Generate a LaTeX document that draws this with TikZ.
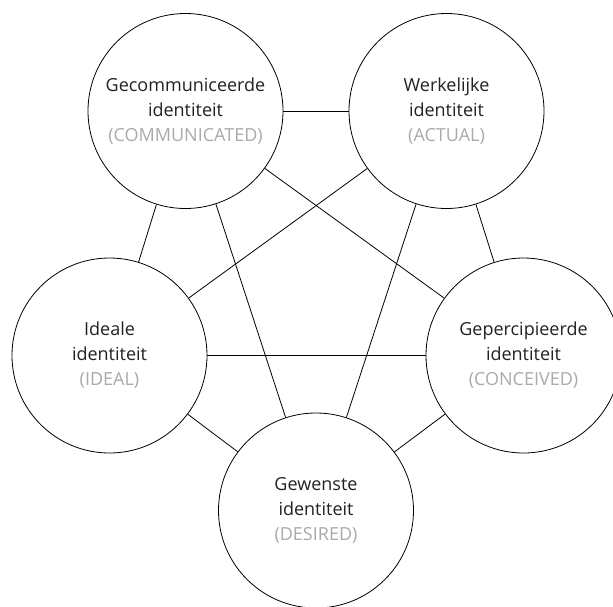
\documentclass[tikz,border=0pt]{standalone}
\usepackage{fontspec}
\setmainfont{Open Sans}
\definecolor{inktext}{HTML}{222222}
\definecolor{softgray}{HTML}{AAAAAA}
\begin{document}
\begin{tikzpicture}[x=1pt,y=-1pt,
  facet/.style={circle,draw=black,line width=0.8pt,fill=white,minimum size=195pt,
    inner sep=0pt,align=center,text=inktext,font=\fontsize{18}{25}\selectfont},
  link/.style={draw=black,line width=0.8pt}]
  \useasboundingbox (0,0) rectangle (613,606);
  % the five facets of identity
  \node[facet] (comm) at (185.5,111) {Gecommuniceerde\\identiteit\\\textcolor{softgray}{(COMMUNICATED)}};
  \node[facet] (actual) at (446.5,111) {Werkelijke\\identiteit\\\textcolor{softgray}{(ACTUAL)}};
  \node[facet] (ideal) at (109.5,355.5) {Ideale\\identiteit\\\textcolor{softgray}{(IDEAL)}};
  \node[facet] (conceived) at (523.5,355.5) {Gepercipieerde\\identiteit\\\textcolor{softgray}{(CONCEIVED)}};
  \node[facet] (desired) at (316,510.5) {Gewenste\\identiteit\\\textcolor{softgray}{(DESIRED)}};
  % every facet relates to every other one
  \draw[link] (comm) -- (actual);
  \draw[link] (comm) -- (ideal);
  \draw[link] (comm) -- (conceived);
  \draw[link] (comm) -- (desired);
  \draw[link] (actual) -- (ideal);
  \draw[link] (actual) -- (conceived);
  \draw[link] (actual) -- (desired);
  \draw[link] (ideal) -- (conceived);
  \draw[link] (ideal) -- (desired);
  \draw[link] (conceived) -- (desired);
\end{tikzpicture}
\end{document}
